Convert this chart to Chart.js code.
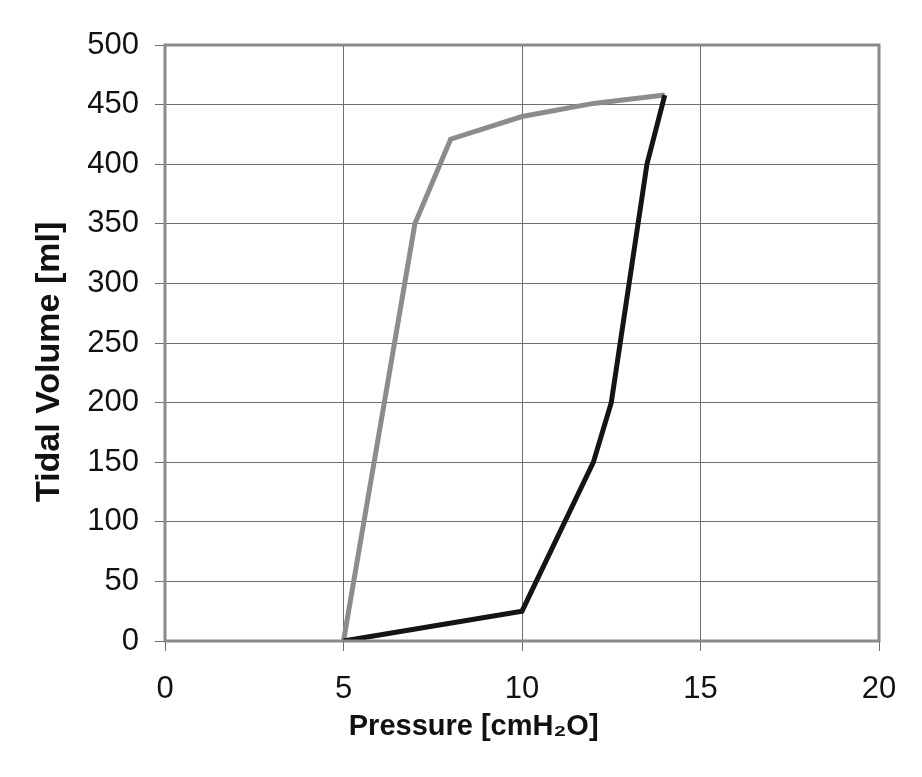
<!DOCTYPE html>
<html>
<head>
<meta charset="utf-8">
<script src="https://cdn.jsdelivr.net/npm/chart.js@4"></script>
<style>
html,body{margin:0;padding:0;background:#fff;}
#wrap{width:922px;height:777px;}
</style>
</head>
<body>
<div id="wrap"><canvas id="c" width="922" height="777"></canvas></div>
<script>
// Inflation (black) and deflation (gray) limbs of the pressure-volume loop
const inflationPressure = [5, 10, 12, 12.5, 13.5, 14];
const inflationVolume   = [0, 25, 150, 200, 400, 458];
const deflationPressure = [5, 7, 8, 10, 12, 14];
const deflationVolume   = [0, 350, 421, 440, 451, 458];
const xTicks = [0, 5, 10, 15, 20];
const yTicks = [0, 50, 100, 150, 200, 250, 300, 350, 400, 450, 500];
const xTitle = 'Pressure [cmH₂O]';
const yTitle = 'Tidal Volume [ml]';

const toPts = (xs, ys) => xs.map((x, i) => ({x: x, y: ys[i]}));

const frame = {
  id: 'frame',
  afterDatasetsDraw(chart) {
    const a = chart.chartArea, ctx = chart.ctx;
    ctx.save();
    ctx.strokeStyle = '#8a8a8a';
    ctx.lineWidth = 3;
    ctx.strokeRect(a.left, a.top, a.right - a.left, a.bottom - a.top);
    ctx.restore();
  }
};

const titleFont = s => ({family: "'Liberation Sans', Arial, sans-serif", size: s, weight: 'bold'});

new Chart(document.getElementById('c'), {
  type: 'scatter',
  data: {
    datasets: [
      {
        label: 'Deflation',
        data: toPts(deflationPressure, deflationVolume),
        showLine: true,
        borderColor: '#8c8c8c',
        borderWidth: 5,
        pointRadius: 0,
        tension: 0,
        order: 2
      },
      {
        label: 'Inflation',
        data: toPts(inflationPressure, inflationVolume),
        showLine: true,
        borderColor: '#141414',
        borderWidth: 5,
        pointRadius: 0,
        tension: 0,
        order: 1
      }
    ]
  },
  options: {
    responsive: false,
    animation: false,
    devicePixelRatio: 1,
    layout: {padding: {left: 0, right: 43, top: 45, bottom: 0}},
    plugins: {legend: {display: false}, tooltip: {enabled: false}},
    scales: {
      x: {
        type: 'linear',
        min: 0, max: 20,
        afterBuildTicks: s => { s.ticks = xTicks.map(v => ({value: v})); },
        afterFit: s => { s.height = 136; },
        grid: {color: '#6e6e6e', lineWidth: 1, tickLength: 10, tickColor: '#6e6e6e'},
        border: {display: false},
        ticks: {color: '#111', font: {family: 'Liberation Sans', size: 31}, padding: 20},
        title: {display: true, text: xTitle + '            ', color: '#111',
                font: titleFont(29), padding: {top: 0, bottom: 33}}
      },
      y: {
        type: 'linear',
        min: 0, max: 500,
        afterBuildTicks: s => { s.ticks = yTicks.map(v => ({value: v})); },
        afterFit: s => { s.width = 165; },
        grid: {color: '#6e6e6e', lineWidth: 1, tickLength: 10, tickColor: '#6e6e6e'},
        border: {display: false},
        ticks: {color: '#111', font: {family: 'Liberation Sans', size: 31}, padding: 16},
        title: {display: true, text: yTitle + '    ', color: '#111',
                font: titleFont(34), padding: {top: 29, bottom: 0}}
      }
    }
  },
  plugins: [frame]
});
</script>
</body>
</html>
